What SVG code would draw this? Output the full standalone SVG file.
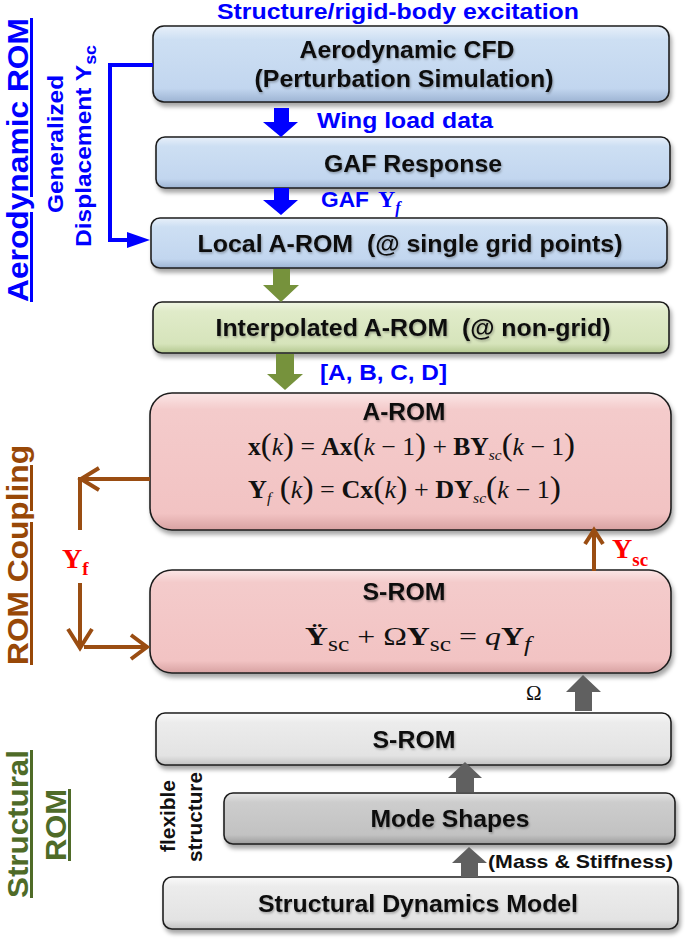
<svg xmlns="http://www.w3.org/2000/svg" width="685" height="940" viewBox="0 0 685 940">
<defs>
<linearGradient id="gBlue" x1="0" y1="0" x2="0" y2="1">
<stop offset="0" stop-color="#e8f0fa"/><stop offset="0.18" stop-color="#cddff3"/><stop offset="0.82" stop-color="#c2d6ef"/><stop offset="1" stop-color="#9db4d3"/>
</linearGradient>
<linearGradient id="gGreen" x1="0" y1="0" x2="0" y2="1">
<stop offset="0" stop-color="#f0f6e4"/><stop offset="0.18" stop-color="#e0ebc9"/><stop offset="0.82" stop-color="#d6e4bb"/><stop offset="1" stop-color="#b4c890"/>
</linearGradient>
<linearGradient id="gPink" x1="0" y1="0" x2="0" y2="1">
<stop offset="0" stop-color="#fbe6e6"/><stop offset="0.12" stop-color="#f4cbcb"/><stop offset="0.88" stop-color="#f2c3c3"/><stop offset="1" stop-color="#d8a2a2"/>
</linearGradient>
<linearGradient id="gGrey" x1="0" y1="0" x2="0" y2="1">
<stop offset="0" stop-color="#fafafa"/><stop offset="0.18" stop-color="#ececec"/><stop offset="0.82" stop-color="#e3e3e3"/><stop offset="1" stop-color="#c2c2c2"/>
</linearGradient>
<linearGradient id="gDark" x1="0" y1="0" x2="0" y2="1">
<stop offset="0" stop-color="#e6e6e6"/><stop offset="0.18" stop-color="#cdcdcd"/><stop offset="0.82" stop-color="#c2c2c2"/><stop offset="1" stop-color="#9c9c9c"/>
</linearGradient>
<filter id="sh" x="-5%" y="-10%" width="112%" height="130%">
<feDropShadow dx="2" dy="4" stdDeviation="2" flood-color="#000" flood-opacity="0.35"/>
</filter>
<filter id="tsh" x="-5%" y="-20%" width="110%" height="150%">
<feDropShadow dx="1" dy="1.5" stdDeviation="0.8" flood-color="#000" flood-opacity="0.3"/>
</filter>
<style>
.box{stroke:#1e1e1e;stroke-width:1.6;filter:url(#sh)}
.lbl{font-family:"Liberation Sans",Arial,sans-serif;font-weight:bold;font-size:24px;fill:#111;text-anchor:middle;filter:url(#tsh)}
.blue{font-family:"Liberation Sans",Arial,sans-serif;font-weight:bold;font-size:22px;fill:#0000ff}
.side{font-family:"Liberation Sans",Arial,sans-serif;font-weight:bold;text-anchor:middle;text-decoration:underline}
.eq{font-family:"Liberation Serif","Times New Roman",serif;font-size:25px;fill:#111}
.b{font-weight:bold}
.i{font-style:italic}
.p{font-size:32px;font-weight:normal}
.brown{fill:none;stroke:#9a4d12;stroke-width:4;stroke-linejoin:miter}
</style>
</defs>

<!-- side labels -->
<text class="side" transform="translate(28,160) rotate(-90)" font-size="30" fill="#0000ff" textLength="284" lengthAdjust="spacingAndGlyphs">Aerodynamic ROM</text>
<text class="side" transform="translate(63,144) rotate(-90)" font-size="22" fill="#0000ff" style="text-decoration:none" textLength="138" lengthAdjust="spacingAndGlyphs">Generalized</text>
<text class="side" transform="translate(91,146) rotate(-90)" font-size="22" fill="#0000ff" style="text-decoration:none" textLength="202" lengthAdjust="spacingAndGlyphs">Displacement Y<tspan font-size="16" dy="5">sc</tspan></text>
<text class="side" transform="translate(28,555) rotate(-90)" font-size="30" fill="#984807" textLength="220" lengthAdjust="spacingAndGlyphs">ROM Coupling</text>
<text class="side" transform="translate(28,824) rotate(-90)" font-size="30" fill="#4f6b28" textLength="148" lengthAdjust="spacingAndGlyphs">Structural</text>
<text class="side" transform="translate(66,825) rotate(-90)" font-size="30" fill="#4f6b28" textLength="72" lengthAdjust="spacingAndGlyphs">ROM</text>
<text class="side" transform="translate(175,816) rotate(-90)" font-size="20" fill="#111" style="text-decoration:none" textLength="72" lengthAdjust="spacingAndGlyphs">flexible</text>
<text class="side" transform="translate(202,817) rotate(-90)" font-size="20" fill="#111" style="text-decoration:none" textLength="90" lengthAdjust="spacingAndGlyphs">structure</text>

<!-- title -->
<text class="blue" x="398" y="19" font-size="20" text-anchor="middle" textLength="362" lengthAdjust="spacingAndGlyphs">Structure/rigid-body excitation</text>

<!-- nodes -->
<g id="cfd">
<rect class="box" x="153" y="26" width="516" height="76" rx="11" fill="url(#gBlue)"/>
<text class="lbl" x="407" y="58" textLength="215" lengthAdjust="spacingAndGlyphs">Aerodynamic CFD</text>
<text class="lbl" x="404" y="87" textLength="299" lengthAdjust="spacingAndGlyphs">(Perturbation Simulation)</text>
</g>
<g id="gaf">
<rect class="box" x="156" y="137" width="514" height="51" rx="9" fill="url(#gBlue)"/>
<text class="lbl" x="413" y="172" textLength="178" lengthAdjust="spacingAndGlyphs">GAF Response</text>
</g>
<g id="local">
<rect class="box" x="151" y="218" width="516" height="50" rx="9" fill="url(#gBlue)"/>
<text class="lbl" x="410" y="252" textLength="425" lengthAdjust="spacingAndGlyphs" xml:space="preserve">Local A-ROM  (@ single grid points)</text>
</g>
<g id="interp">
<rect class="box" x="153" y="302" width="516" height="51" rx="9" fill="url(#gGreen)"/>
<text class="lbl" x="413" y="336" textLength="395" lengthAdjust="spacingAndGlyphs" xml:space="preserve">Interpolated A-ROM  (@ non-grid)</text>
</g>
<g id="arom">
<rect class="box" x="150" y="393" width="521" height="137" rx="22" fill="url(#gPink)"/>
<text class="lbl" x="404" y="420" textLength="83" lengthAdjust="spacingAndGlyphs">A-ROM</text>
<text class="eq" x="248" y="455" textLength="327" lengthAdjust="spacingAndGlyphs"><tspan class="b">x</tspan><tspan class="p">(</tspan><tspan class="i">k</tspan><tspan class="p">)</tspan> = <tspan class="b">Ax</tspan><tspan class="p">(</tspan><tspan class="i">k</tspan> − 1<tspan class="p">)</tspan> + <tspan class="b">BY</tspan><tspan class="i" font-size="15" dy="5">sc</tspan><tspan class="p" dy="-5">(</tspan><tspan class="i">k</tspan> − 1<tspan class="p">)</tspan></text>
<text class="eq" x="248" y="498" textLength="313" lengthAdjust="spacingAndGlyphs"><tspan class="b">Y</tspan><tspan class="i" font-size="15" dy="5">f</tspan><tspan class="p" dy="-5"> (</tspan><tspan class="i">k</tspan><tspan class="p">)</tspan> = <tspan class="b">Cx</tspan><tspan class="p">(</tspan><tspan class="i">k</tspan><tspan class="p">)</tspan> + <tspan class="b">DY</tspan><tspan class="i" font-size="15" dy="5">sc</tspan><tspan class="p" dy="-5">(</tspan><tspan class="i">k</tspan> − 1<tspan class="p">)</tspan></text>
</g>
<g id="srom">
<rect class="box" x="150" y="570" width="521" height="103" rx="22" fill="url(#gPink)"/>
<text class="lbl" x="404" y="600" textLength="83" lengthAdjust="spacingAndGlyphs">S-ROM</text>
<text class="eq" x="305" y="645" font-size="32" textLength="226" lengthAdjust="spacingAndGlyphs"><tspan class="b">Ÿ</tspan><tspan font-size="20" dy="6">sc</tspan><tspan dy="-6"> + Ω</tspan><tspan class="b">Y</tspan><tspan font-size="20" dy="6">sc</tspan><tspan dy="-6"> = </tspan><tspan class="i">q</tspan><tspan class="b">Y</tspan><tspan class="i" font-size="20" dy="6">f</tspan></text>
</g>
<g id="srom-struct">
<rect class="box" x="156" y="713" width="515" height="52" rx="9" fill="url(#gGrey)"/>
<text class="lbl" x="414" y="748" textLength="83" lengthAdjust="spacingAndGlyphs">S-ROM</text>
</g>
<g id="modes">
<rect class="box" x="224" y="793" width="451" height="51" rx="9" fill="url(#gDark)"/>
<text class="lbl" x="450" y="827" textLength="159" lengthAdjust="spacingAndGlyphs">Mode Shapes</text>
</g>
<g id="sdm">
<rect class="box" x="163" y="877" width="515" height="52" rx="9" fill="url(#gGrey)"/>
<text class="lbl" x="418" y="912" textLength="320" lengthAdjust="spacingAndGlyphs">Structural Dynamics Model</text>
</g>

<!-- connectors -->
<g id="connectors">
<polygon fill="#0000ff" points="274,108 289,108 289,122 298,122 281,137 263,122 274,122"/>
<polygon fill="#0000ff" points="274,188 289,188 289,200 298,200 281,215 263,200 274,200"/>
<polygon fill="#76923c" points="273,269 290,269 290,285 299,285 281,302 263,285 273,285"/>
<polygon fill="#76923c" points="276,354 294,354 294,374 303,374 285,390 267,374 276,374"/>
<polygon fill="#606060" points="575,711 592,711 592,692 601,692 583,675 566,692 575,692"/>
<polygon fill="#606060" points="456,792 474,792 474,778 482,778 465,762 448,778 456,778"/>
<polygon fill="#606060" points="461,877 478,877 478,863 487,863 469,847 452,863 461,863"/>
<path d="M153,65 H110 V240 H130" fill="none" stroke="#0000ff" stroke-width="4"/>
<polygon fill="#0000ff" points="127,232 150,240 127,248"/>
<path class="brown" d="M150,479 H80 V530"/>
<path class="brown" d="M99,468 L81,479 L99,490"/>
<path class="brown" d="M80,583 V648"/>
<path class="brown" d="M68,629 L80,648 L92,629"/>
<path class="brown" d="M84,647 H146"/>
<path class="brown" d="M131,635 L147,647 L131,659"/>
<path class="brown" d="M594,571 V530"/>
<path class="brown" d="M585,544 L594,530 L603,544"/>
</g>

<!-- connector labels -->
<text class="blue" x="317" y="128" textLength="176" lengthAdjust="spacingAndGlyphs">Wing load data</text>
<text class="blue" x="321" y="207" textLength="48" lengthAdjust="spacingAndGlyphs">GAF</text>
<text x="378" y="207" font-family="Liberation Serif,serif" font-weight="bold" font-size="24" fill="#0000ff">Y<tspan font-style="italic" font-size="16" dy="6">f</tspan></text>
<text class="blue" x="320" y="380" textLength="127" lengthAdjust="spacingAndGlyphs">[A, B, C, D]</text>
<text x="612" y="558" font-family="Liberation Serif,serif" font-weight="bold" font-size="28" fill="#ff0000">Y<tspan font-size="19" dy="8">sc</tspan></text>
<text x="62" y="568" font-family="Liberation Serif,serif" font-weight="bold" font-size="28" fill="#ff0000">Y<tspan font-size="19" dy="7">f</tspan></text>
<text x="526" y="700" font-family="Liberation Serif,serif" font-size="21" fill="#111">Ω</text>
<text x="488" y="868" font-family="Liberation Sans,Arial,sans-serif" font-weight="bold" font-size="19" fill="#111" textLength="185" lengthAdjust="spacingAndGlyphs">(Mass &amp; Stiffness)</text>
</svg>
